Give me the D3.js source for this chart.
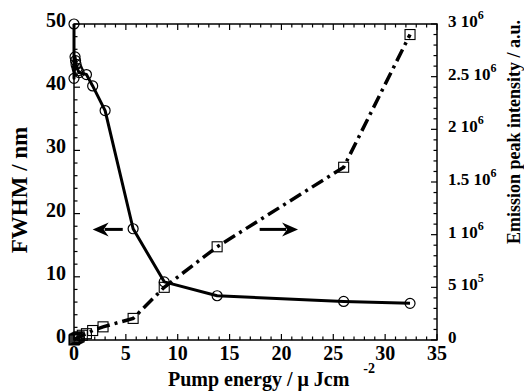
<!DOCTYPE html>
<html>
<head>
<meta charset="utf-8">
<script src="https://cdn.jsdelivr.net/npm/d3@7"></script>
<style>
  body { margin: 0; background: #fff; }
  svg { display: block; }
</style>
</head>
<body>
<div id="chart"></div>
<script>
// FWHM (circles, solid line), left axis
const fwhmEnergy = [0, 0, 0.1, 0.15, 0.2, 0.3, 0.4, 0.5, 1.2, 1.8, 3.0, 5.7, 8.7, 13.8, 26.0, 32.4];
const fwhmValue = [50, 41.4, 44.8, 44.2, 43.6, 43.0, 42.6, 42.3, 42.0, 40.2, 36.3, 17.6, 9.2, 7.0, 6.1, 5.8];

// emission peak intensity (squares, dash-dot line), right axis
const intEnergy = [0, 0.05, 0.1, 0.2, 0.3, 0.4, 0.5, 0.8, 1.2, 1.8, 2.8, 5.7, 8.7, 13.8, 26.0, 32.4];
const intValue = [0, 5e3, 1e4, 1.5e4, 2e4, 2.5e4, 3e4, 4.5e4, 6e4, 9e4, 1.25e5, 2.05e5, 5.0e5, 8.85e5, 1.64e6, 2.9e6];

// tick labels
const xTicks = [0, 5, 10, 15, 20, 25, 30, 35];
const yLeftTicks = [0, 10, 20, 30, 40, 50];
const yRightTicks = [0, 5e5, 1e6, 1.5e6, 2e6, 2.5e6, 3e6];
const yRightMantissa = ["0", "5 10", "1 10", "1.5 10", "2 10", "2.5 10", "3 10"];
const yRightExp = ["", "5", "6", "6", "6", "6", "6"];

// arrows: [x from, x to, y] in left-axis data units
const arrowLeft = [4.7, 1.8, 17.5];
const arrowRight = [17.9, 21.6, 17.5];

const W = 524, H = 391;
const margin = { t: 24, r: 87, b: 51, l: 74 };
const font = "'Liberation Serif', 'Times New Roman', serif";

const svg = d3.select("#chart").append("svg")
  .attr("width", W).attr("height", H)
  .attr("viewBox", [0, 0, W, H])
  .attr("font-family", font)
  .attr("font-weight", "bold");

svg.append("rect").attr("width", W).attr("height", H).attr("fill", "#fff");

const x = d3.scaleLinear().domain([0, 35]).range([margin.l, W - margin.r]);
const y = d3.scaleLinear().domain([0, 50]).range([H - margin.b, margin.t]);
const y2 = d3.scaleLinear().domain([0, 3e6]).range([H - margin.b, margin.t]);

const x0 = x(0), x1 = x(35), yb = y(0), yt = y(50);

// frame
svg.append("rect")
  .attr("x", x0).attr("y", yt)
  .attr("width", x1 - x0).attr("height", yb - yt)
  .attr("fill", "none").attr("stroke", "#000").attr("stroke-width", 1.5);

// inward ticks
const ticks = svg.append("g").attr("stroke", "#000").attr("stroke-width", 1.2);
d3.range(0, 36, 1).forEach(v => {
  const len = v % 5 === 0 ? 6 : 3.5;
  ticks.append("line").attr("x1", x(v)).attr("x2", x(v)).attr("y1", yb).attr("y2", yb - len);
  ticks.append("line").attr("x1", x(v)).attr("x2", x(v)).attr("y1", yt).attr("y2", yt + len);
});
d3.range(0, 51, 2).forEach(v => {
  const len = v % 10 === 0 ? 6 : 3.5;
  ticks.append("line").attr("x1", x0).attr("x2", x0 + len).attr("y1", y(v)).attr("y2", y(v));
});
d3.range(0, 3e6 + 1, 1e5).forEach(v => {
  const len = Math.round(v / 1e5) % 5 === 0 ? 6 : 3.5;
  ticks.append("line").attr("x1", x1).attr("x2", x1 - len).attr("y1", y2(v)).attr("y2", y2(v));
});

// tick labels
svg.append("g").selectAll("text").data(xTicks).join("text")
  .attr("x", d => x(d)).attr("y", yb + 20)
  .attr("text-anchor", "middle").attr("font-size", 20)
  .text(d => d);

svg.append("g").selectAll("text").data(yLeftTicks).join("text")
  .attr("x", x0 - 8).attr("y", d => y(d) + 3)
  .attr("text-anchor", "end").attr("font-size", 20)
  .text(d => d);

const rl = svg.append("g").selectAll("text").data(yRightTicks).join("text")
  .attr("x", x1 + 11).attr("y", d => y2(d) + 3)
  .attr("font-size", 17);
rl.append("tspan").text((d, i) => yRightMantissa[i]);
rl.append("tspan").attr("dy", -8).attr("font-size", 12).text((d, i) => yRightExp[i]);

// axis titles
svg.append("text")
  .attr("transform", `translate(27,190) rotate(-90)`)
  .attr("text-anchor", "middle").attr("font-size", 23)
  .text("FWHM / nm");

svg.append("text")
  .attr("transform", `translate(520,132) rotate(-90)`)
  .attr("text-anchor", "middle").attr("font-size", 18)
  .text("Emission peak intensity / a.u.");

const xt = svg.append("text")
  .attr("x", 168).attr("y", 386)
  .attr("font-size", 20);
xt.append("tspan").text("Pump energy / μ Jcm");
xt.append("tspan").attr("dx", 14).attr("dy", -13).attr("font-size", 14).text("-2");

// intensity line (dash-dot)
const lineInt = d3.line().x((d, i) => x(intEnergy[i])).y(d => y2(d));
svg.append("path")
  .attr("d", lineInt(intValue))
  .attr("fill", "none").attr("stroke", "#000").attr("stroke-width", 3.5)
  .attr("stroke-dasharray", "13,5,3,5");

svg.append("g").selectAll("rect").data(intValue).join("rect")
  .attr("x", (d, i) => x(intEnergy[i]) - 5).attr("y", d => y2(d) - 5)
  .attr("width", 10).attr("height", 10)
  .attr("fill", "none").attr("stroke", "#000").attr("stroke-width", 1.1);

// FWHM line (solid)
const lineFwhm = d3.line().x((d, i) => x(fwhmEnergy[i])).y(d => y(d));
svg.append("path")
  .attr("d", lineFwhm(fwhmValue))
  .attr("fill", "none").attr("stroke", "#000").attr("stroke-width", 3)
  .attr("stroke-linejoin", "round");

svg.append("g").selectAll("circle").data(fwhmValue).join("circle")
  .attr("cx", (d, i) => x(fwhmEnergy[i])).attr("cy", d => y(d))
  .attr("r", 5)
  .attr("fill", "none").attr("stroke", "#000").attr("stroke-width", 1.2);

// arrows
function arrow(a) {
  const xa = x(a[0]), xb = x(a[1]), ya = y(a[2]);
  const dir = Math.sign(xb - xa);
  svg.append("line")
    .attr("x1", xa).attr("x2", xb - dir * 12).attr("y1", ya).attr("y2", ya)
    .attr("stroke", "#000").attr("stroke-width", 3);
  svg.append("path")
    .attr("d", `M${xb},${ya} L${xb - dir * 16},${ya - 7} L${xb - dir * 11},${ya} L${xb - dir * 16},${ya + 7} Z`)
    .attr("fill", "#000");
}
arrow(arrowLeft);
arrow(arrowRight);
</script>
</body>
</html>
